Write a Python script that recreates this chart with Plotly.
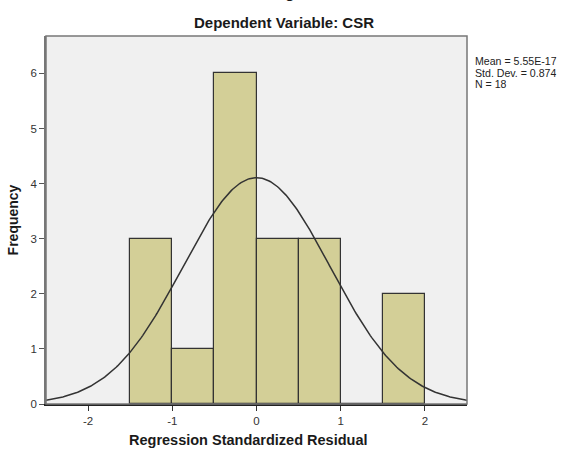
import numpy as np
import plotly.graph_objects as go

# Histogram data (bins of width 0.5)
bin_left = [-1.5, -1.0, -0.5, 0.0, 0.5, 1.0, 1.5]
frequency = [3, 1, 6, 3, 3, 0, 2]
bin_width = 0.5

# Reported statistics
mean_val = 5.55e-17
std_dev = 0.874
n_obs = 18
stats_lines = ["Mean = 5.55E-17", "Std. Dev. = 0.874", "N = 18"]

x_ticks = [-2, -1, 0, 1, 2]
y_ticks = [0, 1, 2, 3, 4, 5, 6]

centers = [b + bin_width / 2 for b in bin_left]

xs = np.linspace(-2.5, 2.5, 301)
ys = n_obs * bin_width / (std_dev * np.sqrt(2 * np.pi)) * np.exp(-0.5 * ((xs - mean_val) / std_dev) ** 2)

FONT = "Arial, Liberation Sans, sans-serif"

fig = go.Figure()
fig.add_trace(go.Bar(
    x=centers, y=frequency, width=bin_width,
    marker=dict(color="#D3CF97", line=dict(color="#333333", width=1.2)),
    hoverinfo="x+y", showlegend=False,
))
fig.add_trace(go.Scatter(
    x=xs, y=ys, mode="lines",
    line=dict(color="#333333", width=1.5),
    showlegend=False, hoverinfo="skip",
))

fig.update_layout(
    width=567, height=453,
    margin=dict(l=41, r=100, t=36, b=49),
    paper_bgcolor="white",
    plot_bgcolor="#F0F0F0",
    font=dict(family=FONT, color="#222222"),
    bargap=0,
    xaxis=dict(
        range=[-2.5, 2.5], tickvals=x_ticks, ticktext=[str(v) for v in x_ticks],
        ticks="outside", ticklen=5, tickcolor="#333333",
        showgrid=False, zeroline=False,
        showline=True, linecolor="#222222", linewidth=1.5,
        tickfont=dict(size=11.5, color="#333333"),
    ),
    yaxis=dict(
        range=[0, 6.68], tickvals=y_ticks, ticktext=[str(v) for v in y_ticks],
        ticks="outside", ticklen=5, tickcolor="#555555",
        showgrid=False, zeroline=False,
        showline=True, linecolor="#777777", linewidth=1.5,
        tickfont=dict(size=11.5, color="#333333"),
        title=dict(text="<b>Frequency</b>", font=dict(size=14, color="#1a1a1a"), standoff=9),
    ),
    shapes=[dict(type="rect", xref="paper", yref="paper", x0=0, y0=0, x1=1, y1=1,
                 line=dict(color="#777777", width=1.5), fillcolor="rgba(0,0,0,0)", layer="above")],
)

for i, t in enumerate(stats_lines):
    fig.add_annotation(
        text=t, xref="paper", yref="paper", x=1.0, xshift=7, xanchor="left",
        y=1.0, yshift=-25 - 11.5 * i, yanchor="middle", showarrow=False,
        height=10, borderpad=0, valign="middle",
        font=dict(size=10.6, color="#222222", family=FONT),
    )

fig.add_annotation(text="<b>Regression Standardized Residual</b>", xref="paper", yref="paper",
                   x=0.482, y=0, yshift=-36, yanchor="middle", showarrow=False,
                   font=dict(size=14.5, color="#1a1a1a", family=FONT))
fig.add_annotation(text="<b>Dependent Variable: CSR</b>", xref="paper", yref="paper",
                   x=0.566, y=1.0, yshift=14, yanchor="middle", showarrow=False,
                   font=dict(size=15, color="#1a1a1a", family=FONT))
fig.add_annotation(text="<b>Histogram</b>", xref="paper", yref="paper",
                   x=0.566, y=1.0, yshift=33, yanchor="bottom", showarrow=False,
                   font=dict(size=16, color="#1a1a1a", family=FONT))

fig.write_html("out.html")
